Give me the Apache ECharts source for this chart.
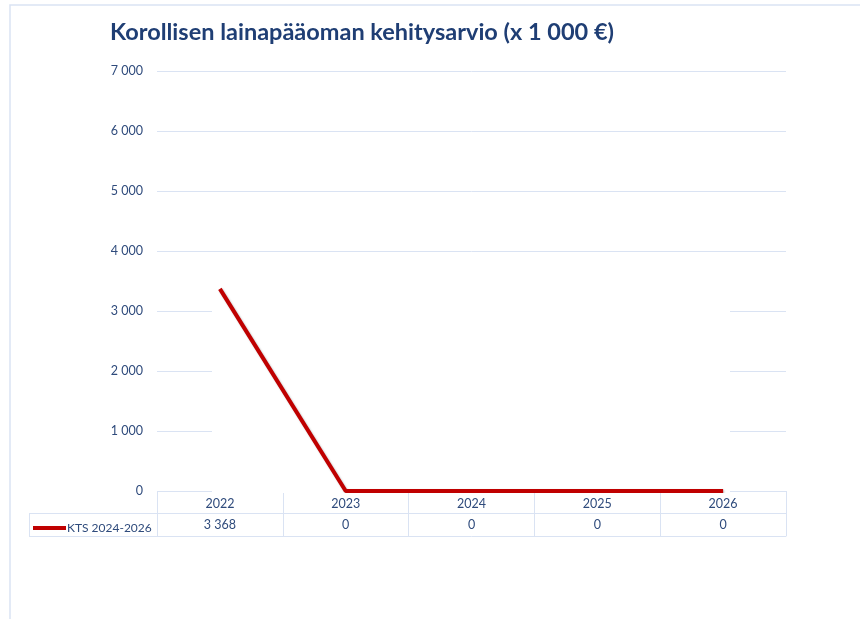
<!DOCTYPE html>
<html>
<head>
<meta charset="utf-8">
<script src="https://cdn.jsdelivr.net/npm/echarts@6/dist/echarts.min.js"></script>
<style>
html, body { margin: 0; padding: 0; background: #fff; }
#chart { width: 860px; height: 619px; }
</style>
</head>
<body>
<div id="chart"></div>
<script>
// data
const years = ['2022', '2023', '2024', '2025', '2026']
const seriesName = 'KTS 2024-2026'
const kts = [3368, 0, 0, 0, 0]
const yTicks = [0, 1000, 2000, 3000, 4000, 5000, 6000, 7000]

const textBlue = '#2f4b7c'
const gridBlue = '#dae3f3'
const font = 'Lato'

// 1 000 style numbers
const fmt = v => String(v).replace(/\B(?=(\d{3})+(?!\d))/g, ' ')

const chart = echarts.init(document.getElementById('chart'))

chart.setOption({
	animation: false,
	title: {
		text: 'Korollisen lainapääoman kehitysarvio (x 1 000 €)',
		left: 105,
		top: 15,
		textStyle: { color: '#1f3e74', fontFamily: font, fontWeight: 'bold', fontSize: 23.5 },
	},
	legend: {
		left: 28,
		top: 517,
		itemWidth: 33,
		itemHeight: 4,
		itemGap: 0,
		icon: 'rect',
		textStyle: { color: textBlue, fontFamily: font, fontSize: 12, padding: [0, 0, 0, -4] },
		data: [seriesName],
	},
	grid: { left: 157, right: 74, top: 71, bottom: 128 },
	xAxis: [
		{
			type: 'category',
			data: years,
			boundaryGap: true,
			axisLine: { show: false },
			axisTick: { show: true, inside: false, length: 45, alignWithLabel: false, lineStyle: { color: gridBlue } },
			axisLabel: { color: textBlue, fontFamily: font, fontSize: 12.5, margin: 6 },
		},
		{
			type: 'category',
			data: years,
			position: 'bottom',
			offset: 22,
			axisLine: { show: true, lineStyle: { color: gridBlue } },
			axisTick: { show: false },
			axisLabel: {
				color: textBlue, fontFamily: font, fontSize: 12.5, margin: 5,
				formatter: (v, i) => fmt(kts[i]),
			},
		},
		{
			type: 'category',
			data: years,
			position: 'bottom',
			offset: 45,
			axisLine: { show: true, lineStyle: { color: gridBlue } },
			axisTick: { show: false },
			axisLabel: { show: false },
		},
	],
	yAxis: {
		type: 'value',
		min: yTicks[0],
		max: yTicks[yTicks.length - 1],
		interval: 1000,
		axisLine: { show: false },
		axisTick: { show: false },
		axisLabel: { color: textBlue, fontFamily: font, fontSize: 12.5, margin: 14, formatter: fmt },
		splitLine: { show: true, lineStyle: { color: gridBlue, width: 1 } },
	},
	graphic: [
		// outer chart frame
		{ type: 'rect', shape: { x: 10, y: 5, width: 870, height: 640 }, style: { fill: 'none', stroke: gridBlue, lineWidth: 1.5 }, z: 0 },
		// white plot shape hiding the lower gridlines
		{ type: 'rect', shape: { x: 212, y: 256, width: 518, height: 237 }, style: { fill: '#fff' }, z: 1 },
		// legend cell of the data table
		{ type: 'line', shape: { x1: 29, y1: 513.5, x2: 157, y2: 513.5 }, style: { stroke: gridBlue }, z: 1 },
		{ type: 'line', shape: { x1: 29, y1: 536.5, x2: 157, y2: 536.5 }, style: { stroke: gridBlue }, z: 1 },
		{ type: 'line', shape: { x1: 29.5, y1: 513, x2: 29.5, y2: 537 }, style: { stroke: gridBlue }, z: 1 },
	],
	series: [
		{
			name: seriesName,
			type: 'line',
			data: kts,
			showSymbol: false,
			symbol: 'none',
			z: 3,
			lineStyle: { color: '#c00000', width: 4, shadowColor: 'rgba(0,0,0,0.25)', shadowBlur: 2, shadowOffsetX: 1, shadowOffsetY: 1 },
			itemStyle: { color: '#c00000' },
		},
	],
})
</script>
</body>
</html>
